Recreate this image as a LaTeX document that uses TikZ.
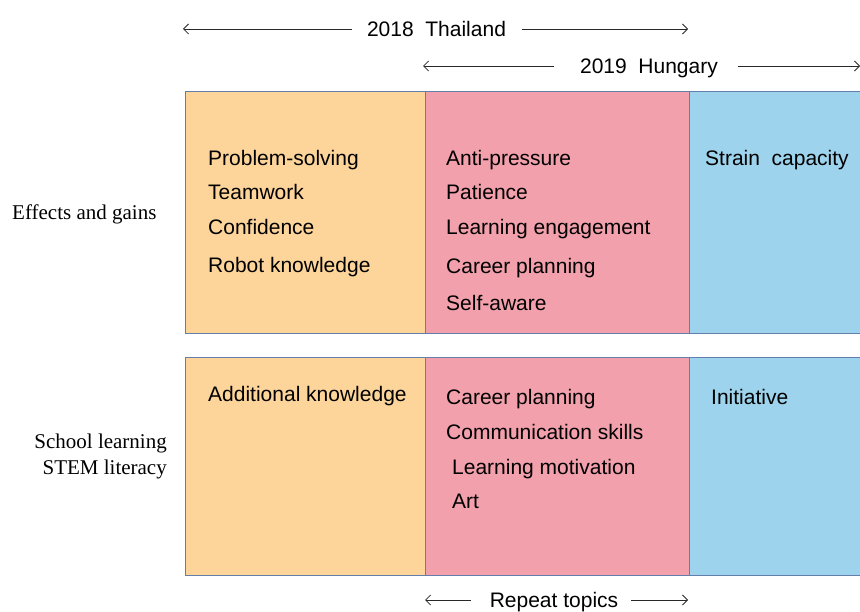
\documentclass[tikz,border=0pt]{standalone}
\usepackage{fontspec}
\setmainfont{Liberation Serif}
\setsansfont{Liberation Sans}
\usepackage{tikz}
\usetikzlibrary{arrows.meta}
\definecolor{peach}{RGB}{253,213,154}
\definecolor{rose}{RGB}{242,160,172}
\definecolor{sky}{RGB}{157,211,236}
\definecolor{edge}{RGB}{100,126,172}
\definecolor{ink}{RGB}{40,40,40}

\begin{document}
\begin{tikzpicture}[x=1pt,y=-1pt,>={Straight Barb[length=5pt,width=10pt]},
  item/.style={anchor=base west,inner sep=0pt,font=\sffamily\fontsize{21}{25}\selectfont},
  side/.style={inner sep=0pt,font=\rmfamily\fontsize{21}{25}\selectfont},
  span/.style={inner sep=0pt,text height=15pt,text depth=0pt,font=\sffamily\fontsize{21}{25}\selectfont},
  spanline/.style={->,draw=ink,line width=0.8pt},
  col/.style={draw=edge,line width=0.9pt}]
\useasboundingbox (0,0) rectangle (860,612);
% columns, upper row
\draw[col,fill=peach] (185,91) rectangle (425,333);
\draw[col,fill=rose] (425,91) rectangle (689,333);
\draw[col,fill=sky] (689,91) rectangle (864,333);
% columns, lower row
\draw[col,fill=peach] (185,357) rectangle (425,575);
\draw[col,fill=rose] (425,357) rectangle (689,575);
\draw[col,fill=sky] (689,357) rectangle (864,575);
% year spans
\node[span] (thai) at (436.5,29) {2018\ \ Thailand};
\coordinate (thaiL) at (183,29);
\coordinate (thaiR) at (688,29);
\draw[spanline,shorten <=15pt] (thai) -- (thaiL);
\draw[spanline,shorten <=16pt] (thai) -- (thaiR);
\node[span] (hung) at (649,66) {2019\ \ Hungary};
\coordinate (hungL) at (423,66);
\coordinate (hungR) at (860,66);
\draw[spanline,shorten <=26pt] (hung) -- (hungL);
\draw[spanline,shorten <=20pt] (hung) -- (hungR);
% row labels
\node[side,anchor=base west] (effects) at (12,220) {Effects and gains};
\node[side,anchor=base east] (school) at (167,448) {School learning};
\node[side,anchor=base east] (stem) at (167,474) {STEM literacy};
% upper row items
\node[item] (ps) at (208,166) {Problem-solving};
\node[item] (tw) at (208,200) {Teamwork};
\node[item] (cf) at (208,235) {Confidence};
\node[item] (rk) at (208,273) {Robot knowledge};
\node[item] (ap) at (446,166) {Anti-pressure};
\node[item] (pa) at (446,200) {Patience};
\node[item] (le) at (446,235) {Learning engagement};
\node[item] (cp) at (446,274) {Career planning};
\node[item] (sa) at (446,311) {Self-aware};
\node[item] (sc) at (705,166) {Strain\ \ capacity};
% lower row items
\node[item] (ak) at (208,402) {Additional knowledge};
\node[item] (cp2) at (446,405) {Career planning};
\node[item] (cs) at (446,439) {Communication skills};
\node[item] (lm) at (452,474) {Learning motivation};
\node[item] (art) at (452,508) {Art};
\node[item] (ini) at (711,405) {Initiative};
% repeat topics
\node[span] (rep) at (554,600) {Repeat topics};
\coordinate (repL) at (425,600);
\coordinate (repR) at (688,600);
\draw[spanline,shorten <=19pt] (rep) -- (repL);
\draw[spanline,shorten <=13pt] (rep) -- (repR);
\end{tikzpicture}
\end{document}
